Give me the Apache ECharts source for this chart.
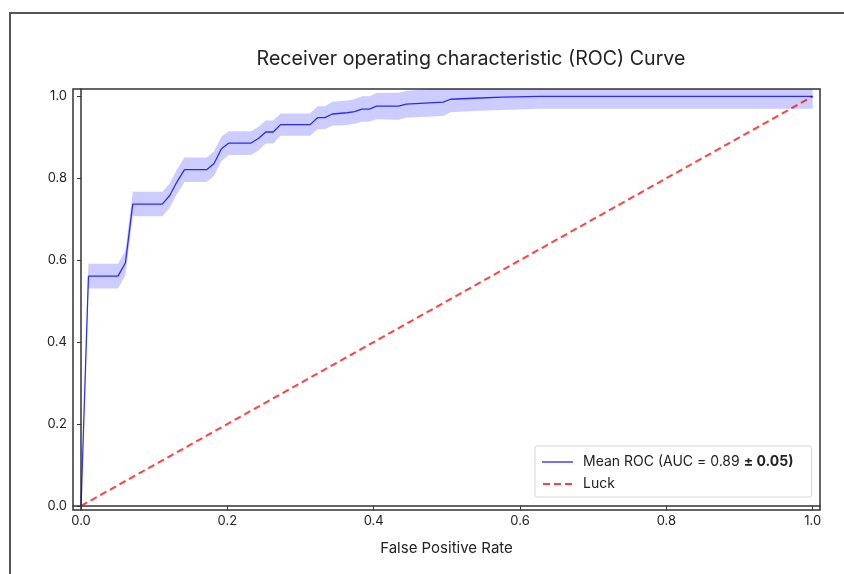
<!DOCTYPE html>
<html>
<head>
<meta charset="utf-8">
<script src="https://cdn.jsdelivr.net/npm/echarts@6/dist/echarts.min.js"></script>
<style>html,body{margin:0;padding:0;background:#fff;}#c{width:844px;height:574px;}</style>
</head>
<body>
<div id="c"></div>
<script>
// ---- data ----
const titleText = 'Receiver operating characteristic (ROC) Curve';
const xAxisTitle = 'False Positive Rate';
const fpr = [0, 0.0101, 0.0505, 0.0606, 0.0707, 0.1111, 0.1212, 0.1313, 0.1414, 0.1717, 0.1818, 0.1919, 0.2020, 0.2323, 0.2424, 0.2525, 0.2626, 0.2727, 0.3131, 0.3232, 0.3333, 0.3434, 0.3636, 0.3737, 0.3838, 0.3939, 0.4040, 0.4343, 0.4444, 0.4949, 0.5051, 0.5455, 0.5758, 0.6263, 1.0];
const meanTpr = [0, 0.561, 0.561, 0.593, 0.737, 0.737, 0.758, 0.792, 0.821, 0.821, 0.836, 0.872, 0.886, 0.886, 0.897, 0.913, 0.913, 0.931, 0.931, 0.948, 0.948, 0.957, 0.960, 0.963, 0.969, 0.969, 0.976, 0.976, 0.981, 0.986, 0.993, 0.996, 0.998, 1.0, 1.0];
const stdTpr = [0, 0.030, 0.030, 0.030, 0.030, 0.030, 0.030, 0.030, 0.030, 0.030, 0.030, 0.030, 0.029, 0.029, 0.029, 0.028, 0.028, 0.027, 0.027, 0.028, 0.028, 0.029, 0.030, 0.030, 0.031, 0.031, 0.032, 0.033, 0.033, 0.034, 0.032, 0.031, 0.031, 0.030, 0.030];
const luckX = [0, 1];
const luckY = [0, 1];
const aucMean = 0.89;
const aucStd = 0.05;
const tickValues = [0, 0.2, 0.4, 0.6, 0.8, 1.0];

const meanName = 'Mean ROC (AUC = ' + aucMean.toFixed(2) + ' \u00b1 ' + aucStd.toFixed(2) + ')';
const luckName = 'Luck';

const meanData = fpr.map((x, i) => [x, meanTpr[i]]);
const bandData = fpr.map((x, i) => [x, meanTpr[i] - stdTpr[i], meanTpr[i] + stdTpr[i]]);
const luckData = luckX.map((x, i) => [x, luckY[i]]);

const FONT = 'Inter, "Noto Sans", sans-serif';
const chart = echarts.init(document.getElementById('c'), null, {renderer: 'canvas'});
chart.setOption({
  backgroundColor: '#fff',
  animation: false,
  graphic: [{
    type: 'rect', shape: {x: 10, y: 13, width: 900, height: 700},
    style: {fill: 'none', stroke: '#555', lineWidth: 2}, silent: true, z: -10
  }],
  title: {
    text: titleText, left: 466, top: 44, textAlign: 'center',
    textStyle: {fontFamily: FONT, fontSize: 19.6, fontWeight: 'normal', color: '#222'}
  },
  grid: {left: 73, top: 89, right: 24, bottom: 64, show: true, borderColor: '#333', borderWidth: 1.5, backgroundColor: 'transparent'},
  xAxis: {
    type: 'value', min: -0.011, max: 1.01,
    name: xAxisTitle, nameLocation: 'middle', nameGap: 31,
    nameTextStyle: {fontFamily: FONT, fontSize: 15, color: '#222'},
    axisLine: {show: true, lineStyle: {color: '#333', width: 1.5}},
    axisTick: {show: true, length: 4, lineStyle: {color: '#333'}, customValues: tickValues},
    axisLabel: {customValues: tickValues, formatter: v => v.toFixed(1), fontFamily: FONT, fontSize: 13, color: '#222', margin: 5},
    splitLine: {show: false}
  },
  yAxis: {
    type: 'value', min: -0.01, max: 1.018,
    axisLine: {show: true, lineStyle: {color: '#333', width: 1.5}},
    axisTick: {show: true, length: 4, lineStyle: {color: '#333'}, customValues: tickValues},
    axisLabel: {customValues: tickValues, formatter: v => v.toFixed(1), fontFamily: FONT, fontSize: 13, color: '#222', margin: 6},
    splitLine: {show: false}
  },
  legend: {
    orient: 'vertical', left: 535, top: 446,
    padding: [9, 18, 6, 7],
    backgroundColor: '#fff', borderColor: '#d8d8d8', borderWidth: 1, borderRadius: 2,
    itemWidth: 31, itemHeight: 2, itemGap: 8,
    data: [
      {name: meanName, icon: 'path://M0,0.3h31v1.4h-31z'},
      {name: luckName, icon: 'path://M0,0h7v2h-7z M11,0h7v2h-7z M22,0h7v2h-7z'}
    ],
    textStyle: {
      fontFamily: FONT, fontSize: 14, color: '#222', padding: [0, 0, 0, 5],
      rich: {n: {fontFamily: FONT, fontSize: 14, color: '#222'}, b: {fontFamily: FONT, fontSize: 14, color: '#222', fontWeight: 'bold'}}
    },
    formatter: function (name) {
      if (name === meanName) {
        return '{n|Mean ROC (AUC = ' + aucMean.toFixed(2) + ' }{b|\u00b1 ' + aucStd.toFixed(2) + ')}';
      }
      return name;
    }
  },
  series: [
    {
      type: 'custom', name: 'band', data: bandData, silent: true, z: 1,
      renderItem: function (params, api) {
        if (params.dataIndex !== 0) return null;
        const upper = bandData.map(d => api.coord([d[0], d[2]]));
        const lower = bandData.map(d => api.coord([d[0], d[1]])).reverse();
        const cs = params.coordSys;
        return {
          type: 'polygon',
          shape: {points: upper.concat(lower)},
          style: {fill: 'rgba(0,0,255,0.2)', stroke: null},
          clipPath: {type: 'rect', shape: {x: cs.x, y: cs.y, width: cs.width, height: cs.height}}
        };
      }
    },
    {
      type: 'line', name: luckName, data: luckData, showSymbol: false, symbol: 'none', z: 3,
      lineStyle: {color: 'rgba(255,0,0,0.75)', width: 2, type: [7, 4]},
      itemStyle: {color: 'rgba(255,0,0,0.75)'}
    },
    {
      type: 'line', name: meanName, data: meanData, showSymbol: false, symbol: 'none', z: 4,
      lineStyle: {color: 'rgba(0,0,255,0.8)', width: 1.3},
      itemStyle: {color: 'rgba(0,0,255,0.8)'}
    }
  ]
});
</script>
</body>
</html>
